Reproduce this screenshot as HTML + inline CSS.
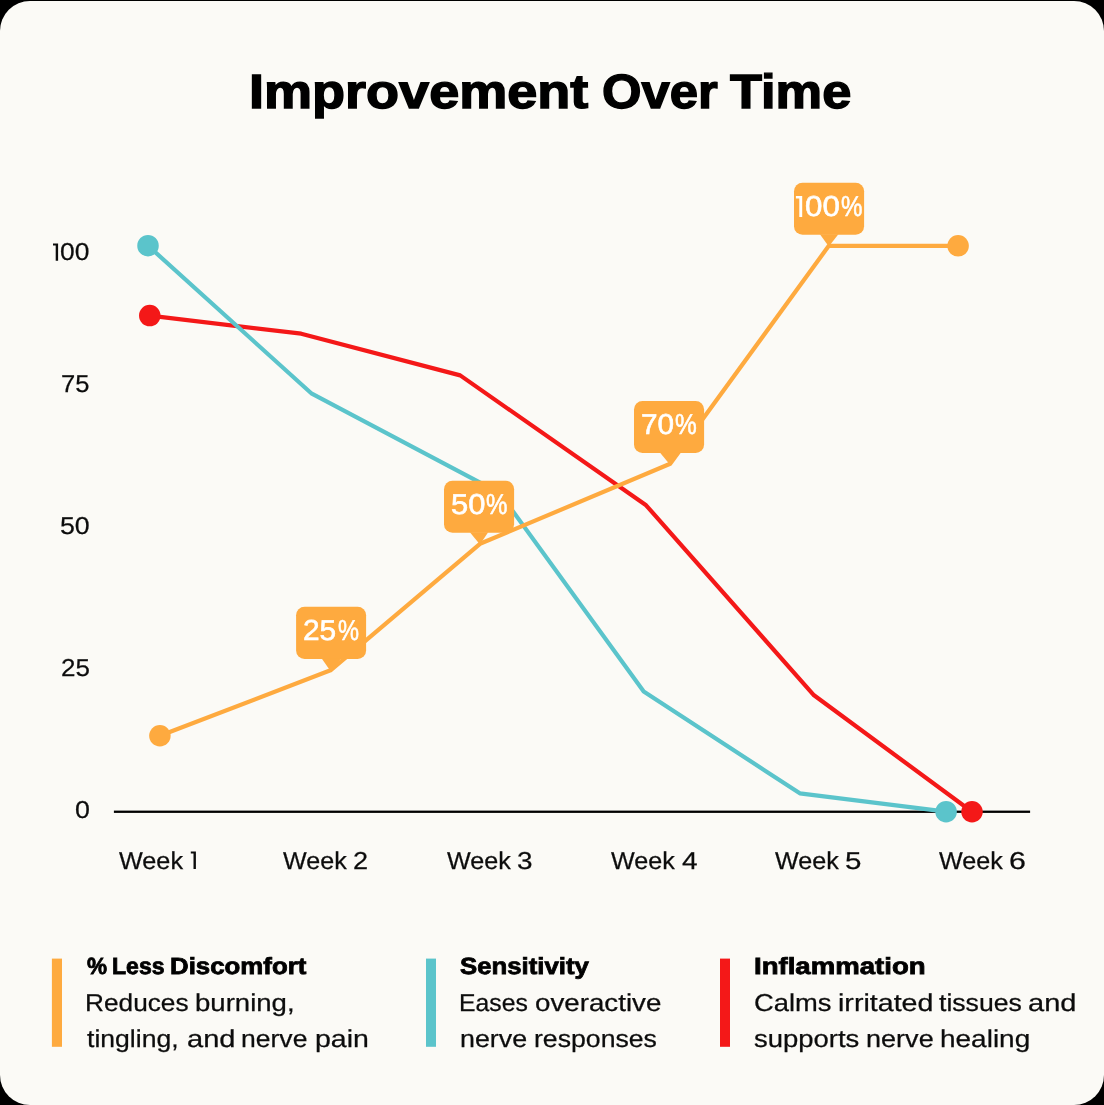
<!DOCTYPE html>
<html>
<head>
<meta charset="utf-8">
<title>Improvement Over Time</title>
<style>
  html, body { margin: 0; padding: 0; }
  html { background: #000; }
  body { width: 1104px; height: 1105px; background: #000; overflow: hidden; position: relative;
         font-family: "Liberation Sans", sans-serif; color: #0c0c0c; text-rendering: geometricPrecision; }
  .card { position: absolute; left: 0; top: 1px; width: 1104px; height: 1104px; background: #FBFAF6; border-radius: 30px; }
  .w { position: absolute; white-space: nowrap; transform-origin: 0 0; display: block; }
  .bar { position: absolute; width: 10px; height: 87.6px; top: 958.8px; }
  .pl { -webkit-text-stroke: 0.6px #fff; }
  .tt { -webkit-text-stroke: 1.4px #000; }
  .lb { -webkit-text-stroke: 0.8px #000; }
  .rg { -webkit-text-stroke: 0.25px #0c0c0c; }
  svg { position: absolute; left: 0; top: 0; }
</style>
</head>
<body>
<div class="card"></div>

<svg width="1104" height="1105" viewBox="0 0 1104 1105">
  <!-- axis -->
  <rect x="113.9" y="810.6" width="916.2" height="2.3" fill="#000"/>
  <!-- red -->
  <polyline points="149.75,315.6 301.2,333.7 460.2,375.4 646.1,505.3 814,695.3 972,811.75" fill="none" stroke="#F41818" stroke-width="4.2" stroke-linejoin="round"/>
  <!-- teal -->
  <polyline points="148,245.65 311.8,393.7 499.5,492.8 643.7,691.5 799.8,793.3 946.1,811.7" fill="none" stroke="#5BC4CB" stroke-width="4.2" stroke-linejoin="round"/>
  <!-- orange -->
  <polyline points="159.9,735.75 330.5,670.3 480,543.8 670.2,463.8 828.8,245.8 958.1,245.8" fill="none" stroke="#FEAA3F" stroke-width="4.2" stroke-linejoin="round"/>
  <circle cx="149.75" cy="315.6" r="10.75" fill="#F41818"/>
  <circle cx="972" cy="811.75" r="10.75" fill="#F41818"/>
  <circle cx="148" cy="245.65" r="10.75" fill="#5BC4CB"/>
  <circle cx="946.1" cy="811.7" r="10.75" fill="#5BC4CB"/>
  <circle cx="159.9" cy="735.75" r="10.75" fill="#FEAA3F"/>
  <circle cx="958.1" cy="245.8" r="10.75" fill="#FEAA3F"/>
  <!-- labels -->
  <g fill="#FEAA3F">
    <rect x="296.1" y="606.8" width="70" height="52.1" rx="8.5"/>
    <path d="M321.7,658.4 L341,658.4 L330.8,671.5 Z"/>
    <rect x="444" y="480.7" width="70.1" height="52" rx="8.5"/>
    <path d="M469.9,532.2 L488.2,532.2 L479.9,544.5 Z"/>
    <rect x="634" y="400.9" width="70.1" height="52" rx="8.5"/>
    <path d="M659.9,452.4 L680.2,452.4 L670.2,465 Z"/>
    <rect x="794" y="182.7" width="70.1" height="52.1" rx="8.5"/>
    <path d="M819.9,234.3 L838.4,234.3 L828.8,246.5 Z"/>
  </g>
  <!-- legend bars -->
  <rect x="51.9" y="958.6" width="10.1" height="88.2" fill="#FEAA3F"/>
  <rect x="426" y="958.6" width="10" height="88.2" fill="#5BC4CB"/>
  <rect x="720" y="958.6" width="10" height="88.2" fill="#F41818"/>
  <path d="M58.1,260.7 L58.1,243.40 L53.00,243.40 L53.00,245.50 L55.70,245.50 L55.70,260.7 Z" fill="#0c0c0c"/>
  <path d="M195.9,868.9 L195.9,851.50 L190.80,851.50 L190.80,853.60 L193.50,853.60 L193.50,868.9 Z" fill="#0c0c0c"/>
  <path d="M802.2,216.9 L802.2,195.90 L795.90,195.90 L795.90,198.50 L799.30,198.50 L799.30,216.9 Z" fill="#fff"/>
</svg>


<div style="position:absolute;left:0;top:0;width:1104px;height:1105px;will-change:transform;">
<span class="w tt" style="left:249.22px;top:64.50px;font-size:48.1px;line-height:54.00px;font-weight:bold;color:#000;transform:scaleX(1.1236)">Improvement</span>
<span class="w tt" style="left:602.00px;top:64.50px;font-size:48.1px;line-height:54.00px;font-weight:bold;color:#000;transform:scaleX(1.0565)">Over</span>
<span class="w tt" style="left:730.47px;top:64.50px;font-size:48.1px;line-height:54.00px;font-weight:bold;color:#000;transform:scaleX(1.0893)">Time</span>
<span class="w rg" style="left:60.46px;top:238.70px;font-size:24.4px;line-height:27.00px;font-weight:normal;color:#0c0c0c;transform:scaleX(1.0817)">00</span>
<span class="w rg" style="left:61.41px;top:370.90px;font-size:24.4px;line-height:27.00px;font-weight:normal;color:#0c0c0c;transform:scaleX(1.0479)">75</span>
<span class="w rg" style="left:60.09px;top:513.40px;font-size:24.4px;line-height:27.00px;font-weight:normal;color:#0c0c0c;transform:scaleX(1.0962)">50</span>
<span class="w rg" style="left:60.64px;top:654.60px;font-size:24.4px;line-height:27.00px;font-weight:normal;color:#0c0c0c;transform:scaleX(1.0640)">25</span>
<span class="w rg" style="left:74.90px;top:796.60px;font-size:24.4px;line-height:27.00px;font-weight:normal;color:#0c0c0c;transform:scaleX(1.0988)">0</span>
<span class="w rg" style="left:119.10px;top:848.10px;font-size:24.4px;line-height:27.00px;font-weight:normal;color:#0c0c0c;transform:scaleX(1.0340)">Week</span>
<span class="w rg" style="left:283.46px;top:848.10px;font-size:24.4px;line-height:27.00px;font-weight:normal;color:#0c0c0c;transform:scaleX(1.0291)">Week</span>
<span class="w rg" style="left:352.92px;top:848.10px;font-size:24.4px;line-height:27.00px;font-weight:normal;color:#0c0c0c;transform:scaleX(1.1108)">2</span>
<span class="w rg" style="left:447.46px;top:848.10px;font-size:24.4px;line-height:27.00px;font-weight:normal;color:#0c0c0c;transform:scaleX(1.0310)">Week</span>
<span class="w rg" style="left:516.90px;top:848.10px;font-size:24.4px;line-height:27.00px;font-weight:normal;color:#0c0c0c;transform:scaleX(1.1439)">3</span>
<span class="w rg" style="left:610.83px;top:848.10px;font-size:24.4px;line-height:27.00px;font-weight:normal;color:#0c0c0c;transform:scaleX(1.0314)">Week</span>
<span class="w rg" style="left:681.81px;top:848.10px;font-size:24.4px;line-height:27.00px;font-weight:normal;color:#0c0c0c;transform:scaleX(1.1491)">4</span>
<span class="w rg" style="left:774.83px;top:848.10px;font-size:24.4px;line-height:27.00px;font-weight:normal;color:#0c0c0c;transform:scaleX(1.0314)">Week</span>
<span class="w rg" style="left:845.26px;top:848.10px;font-size:24.4px;line-height:27.00px;font-weight:normal;color:#0c0c0c;transform:scaleX(1.2108)">5</span>
<span class="w rg" style="left:938.83px;top:848.10px;font-size:24.4px;line-height:27.00px;font-weight:normal;color:#0c0c0c;transform:scaleX(1.0314)">Week</span>
<span class="w rg" style="left:1009.49px;top:848.10px;font-size:24.4px;line-height:27.00px;font-weight:normal;color:#0c0c0c;transform:scaleX(1.2432)">6</span>
<span class="w lb" style="left:86.80px;top:953.30px;font-size:23.4px;line-height:26.00px;font-weight:bold;color:#000;transform:scaleX(0.9630)">%</span>
<span class="w lb" style="left:111.61px;top:953.30px;font-size:23.4px;line-height:26.00px;font-weight:bold;color:#000;transform:scaleX(0.9865)">Less</span>
<span class="w lb" style="left:169.90px;top:953.30px;font-size:23.4px;line-height:26.00px;font-weight:bold;color:#000;transform:scaleX(1.1046)">Discomfort</span>
<span class="w rg" style="left:85.48px;top:990.00px;font-size:24.4px;line-height:27.00px;font-weight:normal;color:#0c0c0c;transform:scaleX(1.0761)">Reduces</span>
<span class="w rg" style="left:195.07px;top:990.00px;font-size:24.4px;line-height:27.00px;font-weight:normal;color:#0c0c0c;transform:scaleX(1.1295)">burning,</span>
<span class="w rg" style="left:86.80px;top:1026.00px;font-size:24.4px;line-height:27.00px;font-weight:normal;color:#0c0c0c;transform:scaleX(1.0900)">tingling,</span>
<span class="w rg" style="left:186.89px;top:1026.00px;font-size:24.4px;line-height:27.00px;font-weight:normal;color:#0c0c0c;transform:scaleX(1.1921)">and</span>
<span class="w rg" style="left:241.11px;top:1026.00px;font-size:24.4px;line-height:27.00px;font-weight:normal;color:#0c0c0c;transform:scaleX(1.0884)">nerve</span>
<span class="w rg" style="left:315.23px;top:1026.00px;font-size:24.4px;line-height:27.00px;font-weight:normal;color:#0c0c0c;transform:scaleX(1.1688)">pain</span>
<span class="w lb" style="left:460.09px;top:953.30px;font-size:23.4px;line-height:26.00px;font-weight:bold;color:#000;transform:scaleX(1.1015)">Sensitivity</span>
<span class="w rg" style="left:459.30px;top:990.00px;font-size:24.4px;line-height:27.00px;font-weight:normal;color:#0c0c0c;transform:scaleX(1.0152)">Eases</span>
<span class="w rg" style="left:535.14px;top:990.00px;font-size:24.4px;line-height:27.00px;font-weight:normal;color:#0c0c0c;transform:scaleX(1.1369)">overactive</span>
<span class="w rg" style="left:460.09px;top:1026.00px;font-size:24.4px;line-height:27.00px;font-weight:normal;color:#0c0c0c;transform:scaleX(1.1011)">nerve</span>
<span class="w rg" style="left:533.58px;top:1026.00px;font-size:24.4px;line-height:27.00px;font-weight:normal;color:#0c0c0c;transform:scaleX(1.0923)">responses</span>
<span class="w lb" style="left:754.05px;top:953.30px;font-size:23.4px;line-height:26.00px;font-weight:bold;color:#000;transform:scaleX(1.1789)">Inflammation</span>
<span class="w rg" style="left:753.73px;top:990.00px;font-size:24.4px;line-height:27.00px;font-weight:normal;color:#0c0c0c;transform:scaleX(1.1220)">Calms</span>
<span class="w rg" style="left:837.63px;top:990.00px;font-size:24.4px;line-height:27.00px;font-weight:normal;color:#0c0c0c;transform:scaleX(1.1733)">irritated</span>
<span class="w rg" style="left:938.84px;top:990.00px;font-size:24.4px;line-height:27.00px;font-weight:normal;color:#0c0c0c;transform:scaleX(1.0915)">tissues</span>
<span class="w rg" style="left:1028.21px;top:990.00px;font-size:24.4px;line-height:27.00px;font-weight:normal;color:#0c0c0c;transform:scaleX(1.1907)">and</span>
<span class="w rg" style="left:753.91px;top:1026.00px;font-size:24.4px;line-height:27.00px;font-weight:normal;color:#0c0c0c;transform:scaleX(1.1257)">supports</span>
<span class="w rg" style="left:865.80px;top:1026.00px;font-size:24.4px;line-height:27.00px;font-weight:normal;color:#0c0c0c;transform:scaleX(1.1097)">nerve</span>
<span class="w rg" style="left:940.45px;top:1026.00px;font-size:24.4px;line-height:27.00px;font-weight:normal;color:#0c0c0c;transform:scaleX(1.1472)">healing</span>
<span class="w pl" style="left:302.64px;top:615.20px;font-size:28.8px;line-height:32.00px;font-weight:normal;color:#fff;transform:scaleX(1.0372)">25</span>
<span class="w pl" style="left:337.74px;top:615.20px;font-size:28.8px;line-height:32.00px;font-weight:normal;color:#fff;transform:scaleX(0.8203)">%</span>
<span class="w pl" style="left:450.82px;top:489.30px;font-size:28.8px;line-height:32.00px;font-weight:normal;color:#fff;transform:scaleX(1.0737)">50</span>
<span class="w pl" style="left:486.06px;top:489.30px;font-size:28.8px;line-height:32.00px;font-weight:normal;color:#fff;transform:scaleX(0.8375)">%</span>
<span class="w pl" style="left:640.97px;top:409.30px;font-size:28.8px;line-height:32.00px;font-weight:normal;color:#fff;transform:scaleX(1.0328)">70</span>
<span class="w pl" style="left:674.85px;top:409.30px;font-size:28.8px;line-height:32.00px;font-weight:normal;color:#fff;transform:scaleX(0.8500)">%</span>
<span class="w pl" style="left:805.21px;top:191.40px;font-size:28.8px;line-height:32.00px;font-weight:normal;color:#fff;transform:scaleX(1.0861)">00</span>
<span class="w pl" style="left:841.06px;top:191.40px;font-size:28.8px;line-height:32.00px;font-weight:normal;color:#fff;transform:scaleX(0.8375)">%</span>
</div>
</body>
</html>
